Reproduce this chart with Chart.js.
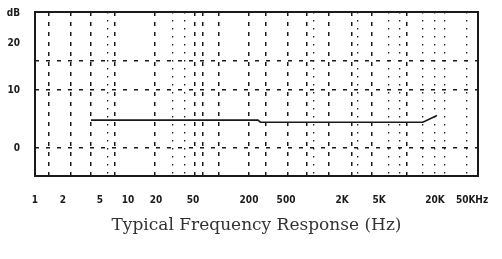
<!DOCTYPE html>
<html>
<head>
<meta charset="utf-8">
<script src="https://cdn.jsdelivr.net/npm/chart.js@4/dist/chart.umd.min.js"></script>
<style>
  html, body { margin: 0; padding: 0; background: #fff; }
  canvas { display: block; }
</style>
</head>
<body>
<canvas id="freqChart" width="502" height="259"></canvas>
<script>
// response curve
const freqHz = [4, 250, 265, 14800, 17500, 21000];
const responseDb = [4.8, 4.8, 4.45, 4.45, 5.0, 5.6];

// x axis: labelled frequencies and the (irregular) grid lines of the original
const xTickHz = [1, 2, 5, 10, 20, 50, 200, 500, 2000, 5000, 20000, 50000];
const xTickLabels = ['1', '2', '5', '10', '20', '50', '200', '500', '2K', '5K', '20K', '50KHz'];
const xGridHz = [1.4, 2.4, 4, 6.1, 7.2, 19.5, 30, 41, 52, 64, 95, 200, 300, 520, 840, 980,
                 1450, 2550, 2950, 4200, 6400, 8400, 10000, 14800, 20000, 25500, 44000];

// y axis
const yTickDb = [0, 10, 15, 18, 23.2];
const yTickLabels = ['0', '10', '', '20', 'dB'];
const yGridDb = [0, 10, 15];

const INK = '#1a1a1a';
const TICK_FONT = { family: '"DejaVu Sans Condensed", "DejaVu Sans", sans-serif', size: 10, weight: 'bold' };
const dotted = new Set([6.1, 30, 41, 980, 2950, 6400, 8400, 14800, 20000, 25500, 44000]);

const xAll = [...new Set([...xTickHz, ...xGridHz])].sort((a, b) => a - b);

const frame = {
    id: 'frame',
    afterDraw(chart) {
        const { ctx, chartArea: a } = chart;
        ctx.save();
        ctx.strokeStyle = INK;
        ctx.lineWidth = 2;
        ctx.strokeRect(a.left, a.top, a.right - a.left, a.bottom - a.top);
        ctx.restore();
    }
};

new Chart(document.getElementById('freqChart'), {
    type: 'line',
    data: {
        datasets: [{
            data: freqHz.map((f, i) => ({ x: f, y: responseDb[i] })),
            borderColor: INK, borderWidth: 1.6, pointRadius: 0, tension: 0, fill: false
        }]
    },
    options: {
        responsive: false, animation: false, devicePixelRatio: 1,
        layout: { padding: { left: 0, top: 12, right: 24, bottom: 0 } },
        plugins: { legend: { display: false }, tooltip: { enabled: false } },
        scales: {
            x: {
                type: 'logarithmic', min: 1, max: 58000,
                afterBuildTicks: s => { s.ticks = xAll.map(v => ({ value: v })); },
                afterFit: s => { s.height = 83; s.paddingLeft = 0; s.paddingRight = 0; },
                ticks: {
                    autoSkip: false, maxRotation: 0, padding: 18, color: INK, font: TICK_FONT,
                    callback: v => { const i = xTickHz.indexOf(v); return i < 0 ? '' : xTickLabels[i]; }
                },
                grid: {
                    drawTicks: false, lineWidth: c => dotted.has(c.tick && c.tick.value) ? 1.3 : 1.5,
                    color: c => (c.tick && xGridHz.includes(c.tick.value)) ? INK : 'rgba(0,0,0,0)'
                },
                border: { display: false, dash: c => dotted.has(c.tick && c.tick.value) ? [1.5, 6.5] : [4, 6] },
                title: {
                    display: true, text: 'Typical Frequency Response (Hz)', color: '#333',
                    font: { family: '"DejaVu Serif", serif', size: 17 }, padding: { top: 0, bottom: 23 }
                }
            },
            y: {
                type: 'linear', min: -4.8, max: 23.4,
                afterBuildTicks: s => { s.ticks = yTickDb.map(v => ({ value: v })); },
                afterFit: s => { s.width = 35; s.paddingTop = 0; s.paddingBottom = 0; },
                ticks: {
                    padding: 15, color: INK, font: TICK_FONT,
                    callback: v => { const i = yTickDb.indexOf(v); return i < 0 ? '' : yTickLabels[i]; }
                },
                grid: {
                    drawTicks: false, lineWidth: 1.5,
                    color: c => (c.tick && yGridDb.includes(c.tick.value)) ? INK : 'rgba(0,0,0,0)'
                },
                border: { display: false, dash: [4, 7] }
            }
        }
    },
    plugins: [frame]
});
</script>
</body>
</html>
